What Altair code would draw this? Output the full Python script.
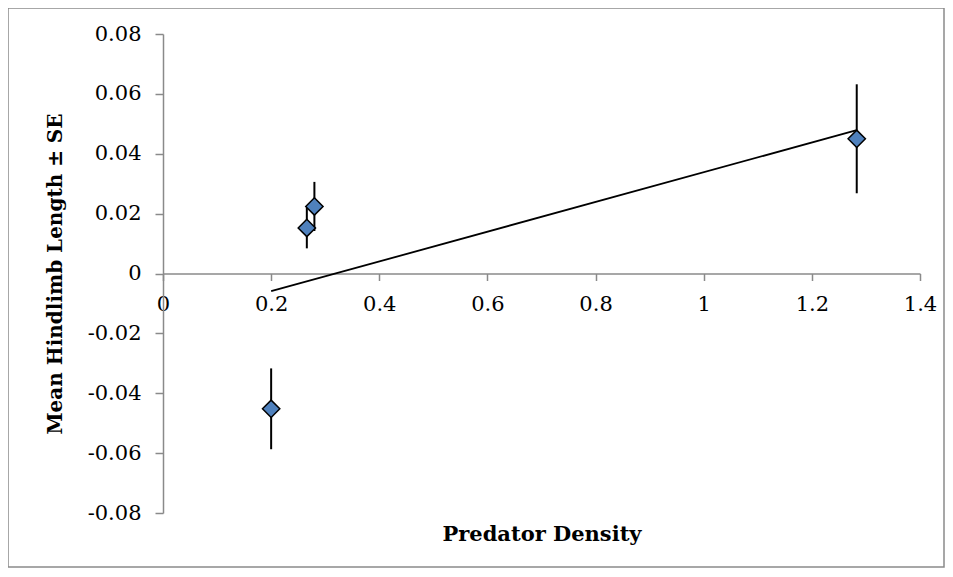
import altair as alt
import pandas as pd

# Data
density = [0.20, 0.266, 0.28, 1.283]
mean_len = [-0.0452, 0.0152, 0.0224, 0.0450]
se = [0.0135, 0.0068, 0.0082, 0.0182]

x_ticks = [0, 0.2, 0.4, 0.6, 0.8, 1, 1.2, 1.4]
y_ticks = [-0.08, -0.06, -0.04, -0.02, 0, 0.02, 0.04, 0.06, 0.08]

df = pd.DataFrame({"x": density, "y": mean_len, "se": se})

FONT = "DejaVu Serif"
GRAY = "#8a8a8a"
W, H = 757, 479

xscale = alt.Scale(domain=[0, 1.4], nice=False, zero=False)
yscale = alt.Scale(domain=[-0.08, 0.08], nice=False, zero=False)

base = alt.Chart(df)

xaxis = alt.Axis(
    values=x_ticks, labelExpr="toString(datum.value)", grid=False,
    offset=-(H / 2), domainColor=GRAY, domainWidth=1.5, tickColor=GRAY,
    tickWidth=1.5, tickSize=7, labelPadding=13, labelFont=FONT,
    labelFontSize=21, labelColor="black", labelFlush=False,
    title="Predator Density", titleFont=FONT, titleFontSize=21,
    titleFontWeight="bold", titleColor="black", titleY=267,
    titleBaseline="alphabetic",
)
yaxis = alt.Axis(
    values=y_ticks, labelExpr="toString(datum.value)", grid=False,
    domainColor=GRAY, domainWidth=1.5, tickColor=GRAY, tickWidth=1.5,
    tickSize=8, labelPadding=14, labelFont=FONT, labelFontSize=21,
    labelColor="black", title="Mean Hindlimb Length ± SE", titleFont=FONT,
    titleFontSize=20, titleFontWeight="bold", titleColor="black",
    titleX=-108, titleY=H / 2, titleAngle=270, titleAlign="center",
    titleBaseline="middle",
)

border = alt.Chart(pd.DataFrame({"a": [0]})).mark_rect(
    fill=None, stroke=GRAY, strokeWidth=1.5, clip=False
).encode(
    x=alt.value(-155), x2=alt.value(781), y=alt.value(-26), y2=alt.value(533)
)

errbars = base.transform_calculate(
    lo="datum.y - datum.se", hi="datum.y + datum.se"
).mark_rule(color="black", strokeWidth=2).encode(
    x=alt.X("x:Q", scale=xscale, axis=xaxis),
    y=alt.Y("lo:Q", scale=yscale, axis=yaxis),
    y2="hi:Q",
)

trend = base.transform_regression("x", "y").mark_line(
    color="black", strokeWidth=1.8
).encode(x=alt.X("x:Q", scale=xscale), y=alt.Y("y:Q", scale=yscale))

points = base.mark_point(
    shape="diamond", filled=True, fill="#4F81BD", stroke="black",
    strokeWidth=1.5, size=300, opacity=1
).encode(x=alt.X("x:Q", scale=xscale), y=alt.Y("y:Q", scale=yscale))

chart = alt.layer(border, errbars, trend, points).properties(
    width=W, height=H,
    view=alt.ViewBackground(stroke="transparent", strokeWidth=0),
    padding={"left": 155, "top": 26, "right": 25, "bottom": 55},
    autosize=alt.AutoSizeParams(type="none"),
).configure_view(stroke="transparent", strokeWidth=0).configure(background="white")

chart.save("out.html", embed_options={"renderer": "svg", "actions": False})
